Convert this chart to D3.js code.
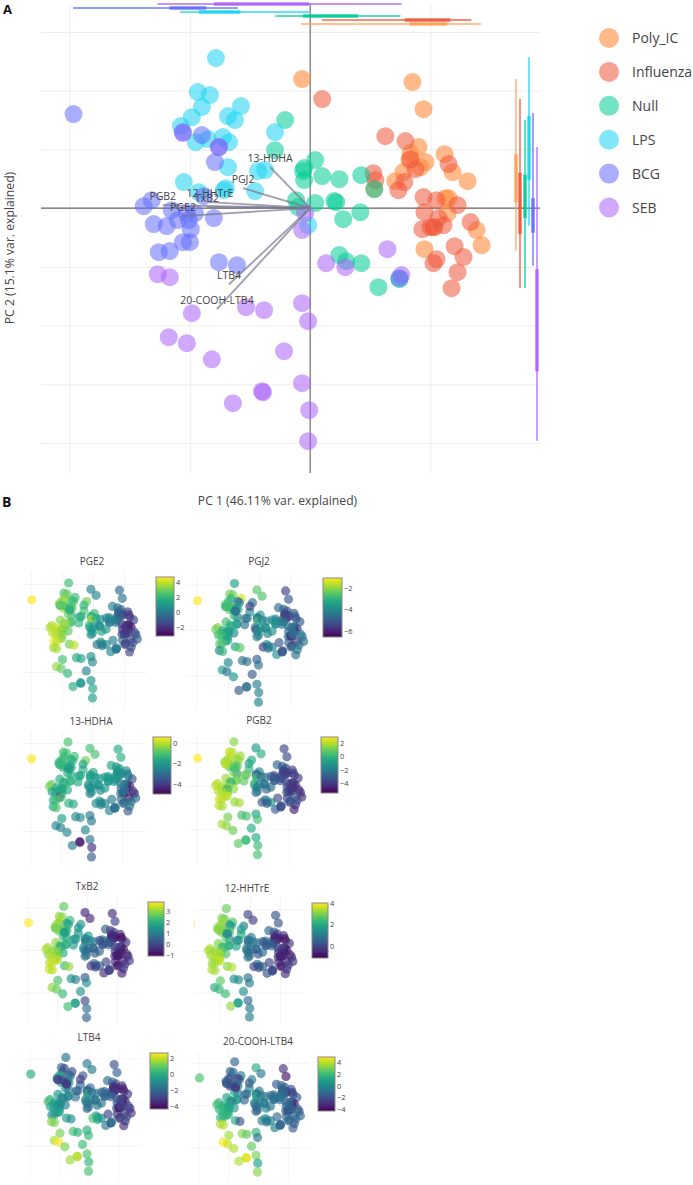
<!DOCTYPE html>
<html><head><meta charset="utf-8">
<script src="https://cdn.jsdelivr.net/npm/d3@7"></script>
<style>html,body{margin:0;padding:0;background:#fff}svg{display:block;font-family:"Open Sans",sans-serif}</style>
</head><body><svg id="c" width="693" height="1185"></svg>
<script>
// ---------- data ----------
const groupNames = ["Poly_IC","Influenza","Null","LPS","BCG","SEB"];
const groupColors = ["#FF8A3C","#EF553B","#00CC96","#19D3F3","#636EFA","#AB63FA"];
const boxColors = ["#FFA15A","#EF553B","#00CC96","#19D3F3","#636EFA","#AB63FA"];

const polyPc1 = [-0.67,8.5,9.42,9,8.33,8.25,9.58,9.17,11.17,7.75,7.08,11.83,13.08,5.33,11.25,11.5,11.42,10.33,13.83,14.25,9.5];
const polyPc2 = [10.99,10.74,8.43,5.2,4.69,4.09,3.92,3.49,4.6,3.07,2.3,3.07,2.3,1.62,0.85,0.85,-0.43,-1.62,-1.87,-3.15,-3.49];
const fluPc1 = [1,6.25,7.92,8.33,8.75,7.83,7.33,5.25,5.42,11.5,9.42,12.25,9.5,10.5,9.33,10,10.25,11.08,10.67,13.33,12,10.5,10.25,12.75,12.25,11.75];
const fluPc2 = [9.29,6.13,5.71,4.17,3.32,2.22,1.53,2.98,2.39,3.75,0.94,0.26,-0.34,0.68,-1.79,-1.62,-1.62,-1.45,-0.85,-1.19,-3.24,-4.35,-4.69,-4.17,-5.45,-6.82];
const nullPc1 = [-2.08,-2.92,0.42,-0.5,-0.58,-0.5,1,2.42,-1.17,-1,0.42,2,2.17,2.75,4.25,5.33,4.17,2.42,3,4.25,5.67,7.42];
const nullPc2 = [7.5,4.94,4.09,3.41,3.15,2.39,2.73,2.47,0.68,0.09,0.43,0.6,0.51,-0.94,2.81,1.62,-0.34,-4,-4.52,-4.69,-6.73,-6.05];
const lpsPc1 = [-7.83,-9.33,-8.33,-9,-5.75,-6.83,-6.25,-9.83,-10.75,-2.92,-9.5,-8.5,-7.25,-6.75,-6.83,-4.33,-3.75,-10.5,-7,-7.17,-4.58,-9.25,-0.17];
const lpsPc2 = [12.78,9.88,9.63,8.61,8.69,7.84,7.5,7.75,6.99,6.48,5.62,5.88,6.05,5.62,3.49,3.15,3.24,2.22,1.7,1.53,1.45,1.36,-1.45];
const bcgPc1 = [-19.67,-10.58,-9,-7.92,-7.58,-13.17,-13.83,-8.83,-11.5,-10.25,-9.58,-8,-11,-10.08,-9.92,-13,-11.92,-10.58,-10,-12.58,-11.67,-7.58,-6.08,7.42];
const bcgPc2 = [8.01,6.48,6.22,3.92,5.2,0.68,0.17,1.02,-0.17,-0.43,-0.43,-0.85,-1.02,-1.02,-1.79,-1.36,-1.53,-2.9,-2.9,-3.75,-3.66,-4.6,-4.86,-5.96];
const sebPc1 = [-7.58,-10.58,-0.42,-0.67,-12.67,-11.67,1.33,2.92,-9.83,-5.33,-3.83,-0.67,-0.17,-11.75,-10.25,-8.17,-2.17,-0.67,-4,-3.92,-6.42,-0.08,-0.17,6.42,7.58];
const sebPc2 = [5.2,6.39,-0.43,-1.87,-5.62,-5.88,-4.69,-5.03,-8.95,-8.43,-8.69,-8.09,-9.63,-10.99,-11.5,-12.87,-12.18,-14.91,-15.59,-15.68,-16.61,-17.21,-19.85,-3.49,-5.7];

// marginal box summaries: whisker low, box low, box high, whisker high
const boxPc1 = [[-0.75,8.25,11.4,14.2],[1,7.85,11.65,13.4],[-2.9,-0.6,4,7.5],[-10.8,-9.25,-5.8,-0.1],[-19.7,-11.7,-8.65,-6],[-12.7,-8,-0.1,7.6]];
const boxPc2 = [[-3.6,0.5,4.6,11],[-6.8,-2.2,3,9.3],[-6.8,-0.85,2.85,7.5],[-1.5,2.4,7.85,12.85],[-4.9,-2.1,0.85,8.1],[-19.8,-13.9,-5.2,5.2]];

const loadNames = ["13-HDHA","PGJ2","PGB2","12-HHTrE","TxB2","PGE2","LTB4","20-COOH-LTB4"];
const loadPc1 = [-3.33,-5.58,-12.25,-8.33,-8.58,-10.58,-6.75,-7.75];
const loadPc2 = [3.49,1.7,0.26,0.51,0.09,-0.68,-6.5,-8.6];

const gridPc1 = [-20,-10,0,10];
const gridPc2 = [-20,-15,-10,-5,0,5,10,15];

const pge2 = [0.2,-0.5,-0.3,-0.8,-0.6,-1,-1.2,-1.5,-1.5,-0.5,0,-1.8,-1.5,0.2,-2.3,-2.5,-2.2,-1.8,-1,-0.7,-0.2,
 0.5,0,-0.3,-0.8,-1,-0.3,0,0.3,0.5,-2,-1.5,-2.6,-2,-2.2,-1.5,-1.2,-1.5,-1.5,-2,-1.5,-1.5,-1.6,-1.7,-1.5,-1.2,-1.5,
 3,2.5,2.2,2,1.8,3.8,1.5,1,1.8,1.6,1,0.8,0.5,1.5,0.4,0.2,0.8,1,0.9,0.8,0.3,0.5,
 2.2,2.5,2.7,3.2,2.2,2.3,2.2,3.5,3.3,2,3.8,3,2.5,2.6,1.8,1.5,1.7,3.3,3,2.2,2,3.2,0.7,
 4.7,2.8,2.6,3,1.8,3.8,3.7,3.5,4,3.6,3.2,2.7,3.8,3.5,3.2,4,3.8,3.6,3.3,4.6,3.9,2.9,3.9,0.2,
 1.8,2.6,1,1,3.6,3.6,-0.2,0.1,2.3,1.7,1.3,0.8,0.6,3.5,2.8,2,0.4,0.8,0.8,0.9,1.6,1.5,1.2,0.1,-0.3];
const pgj2 = [-2.5,-5.5,-5,-5,-4.7,-6,-5.5,-5.3,-5,-4.5,-4.2,-5.5,-5,-4.3,-4.5,-4.3,-6,-5.8,-4.6,-4.6,-4.8,
 -2.6,-4.7,-5,-5.7,-5.4,-4.6,-4.3,-4.4,-4.2,-5,-4.5,-5.5,-4.4,-4.6,-4.6,-4.7,-6,-4.8,-4.5,-4.3,-5.6,-6,-4.7,-4.5,-4.3,-4.5,
 -4.5,-3.8,-3.6,-4.6,-4.4,-2.8,-4.2,-4,-4.2,-5.5,-3.8,-3.9,-3.9,-4,-3.8,-3.8,-3.8,-4,-4.2,-4.3,-3.9,-5.8,
 -3.5,-2.3,-2.2,-3,-1.5,-4.6,-4.3,-3,-2.5,-5.6,-2.5,-3,-3.5,-3.5,-4.4,-4.3,-4.5,-2.7,-4,-3.5,-4.5,-3,-4.2,
 -1.1,-2.8,-2.9,-3,-4.5,-2,-2.3,-3.2,-3.5,-3.2,-3.4,-4,-3.3,-3.5,-3.4,-2.8,-2.8,-3.2,-3.5,-2.6,-2.7,-3.4,-2.6,-5,
 -4.5,-2.8,-4,-4.2,-4.2,-3,-5.6,-4.3,-4.1,-4.4,-4.6,-5,-4.6,-3.5,-4.5,-3.7,-5.1,-4.2,-4.6,-4.6,-5,-4.2,-4.1,-5.1,-5];
const hdha13 = [-1.1,-1.6,-1.5,-1.8,-1.8,-2,-2.1,-2.1,-2.3,-1.8,-1.8,-2.4,-3.6,-2.2,-2.8,-3.1,-4.4,-3,-4.2,-3,-3.1,
 -1,-1.7,-2,-2.1,-2.3,-2,-2.2,-2,-2.1,-2.6,-2.8,-4.5,-2.7,-2.6,-2.8,-2.7,-3.5,-3,-3.1,-4.3,-4.7,-3.3,-3.1,-2.9,-2.7,-3.4,
 -0.6,-1.5,-1.7,-1.9,-2,-1.7,-2,-2,-2,-2.2,-2.2,-2.1,-2.2,-2.3,-2,-1.9,-2.1,-2,-2.3,-2.4,-2.5,-2.5,
 -1,-1,-1.1,-1.2,-1.1,-1.5,-1.4,-1.3,-1.4,-1.7,-1.4,-1.6,-1.6,-1.6,-1.7,-1.8,-1.7,-1.5,-1.7,-1.2,-1.7,-1.8,-2,
 0.5,-1.3,-1.3,-1.4,-1.7,-0.8,-0.6,-1.3,-1.5,-1.4,-1.6,-1.6,-1.5,-1.7,-1.6,-1.8,-1.7,-4.3,-1,-1.7,-1.1,-1.4,-1.6,-3.3,
 -2,-1.3,-2.2,-2.4,-1.5,-1,-2.2,-2.4,-1.8,-2.4,-2.4,-2.7,-2.8,-2.4,-2.6,-2.4,-2.4,-2.8,-4.8,-4.6,-2.7,-4.2,-3.3,-2.7,-2.8];
const pgb2 = [-1,-3.6,-3.5,-3.5,-3.5,-4,-4,-4,-3.7,-3.5,-2.5,-3.8,-4,-3,-3.8,-3.7,-4,-4,-4.2,-4.5,-4,
 -0.2,-2.7,-3,-4,-4,-3.7,-3.3,-4,-3.5,-4,-3.5,-4.5,-3.5,-4,-3.3,-3.4,-3.6,-4,-4.2,-4.5,-3.3,-3.5,-3.4,-3.6,-3.8,-4.8,
 -0.3,0,-2,-2.5,-2.6,0.5,-2.5,-2.3,-0.2,0.1,-1.9,-2.3,-2.3,-2.6,-3.2,-3,-2.5,-2.8,-1,-1.1,-3,-3.5,
 1.4,2.1,1.9,2.3,1.7,1.5,1.6,1.8,1.2,-0.5,1,-0.4,1,0.8,-1.4,1.2,0.8,1.6,1,1.3,0.8,1.8,-2,
 2.9,2.2,1.8,1,0.5,1.9,2,-0.4,1.8,1.4,1.7,1.5,1.9,-0.6,1.2,2,1.8,2,2.1,2.2,2,1.5,1.8,-3.5,
 0.5,1.9,-2,-2.3,2.1,1.8,-3.3,-3,1.1,0.5,0.4,-0.6,0.4,1.8,1.5,1,-0.3,-0.3,0.2,0.2,0.8,0.2,0.5,-3.6,-3.5];
const txb2 = [-0.6,-0.5,-0.2,-0.2,-0.3,-0.5,-0.5,-0.8,-0.5,0,0.3,-0.5,-0.4,0.3,-0.2,-0.2,-0.8,-0.7,-0.5,-0.2,-0.5,
 -0.5,0.3,-0.1,-0.6,-0.6,0,0.4,0.8,0.7,-1,-0.2,-0.9,-0.1,-0.1,-0.3,-0.3,-0.8,-0.8,-0.7,-0.5,-0.6,-0.6,-0.8,-0.4,-0.2,-0.6,
 1.5,1.5,1.5,1.4,1.2,0.8,1.2,1,1.3,1.2,0.6,0.7,0.6,0.3,0,0.1,0.5,0.9,0.5,0.3,-0.5,0.1,
 2.6,3,2.9,3.3,2.2,1.7,1.8,2.8,3.2,1.5,2.7,2.5,2.2,2.2,1.6,1.3,1.5,3,2.1,2,1.6,2.6,0.6,
 3.8,2.8,2.8,2.2,1.6,3.1,3.2,1.6,2.9,2.8,2.6,2,3,3,2.7,3,3.2,3,3.3,3.2,3.4,2.3,3,0,
 1.6,2.8,0.5,0.9,3.4,3.3,-0.3,-0.1,2.4,1.5,1,0.2,1.3,3,2.7,2.2,1.5,0,1.7,1.7,2.3,0.7,0.5,0,-0.2];
const hhtre12 = [0,0.2,0.3,-0.2,-0.1,-0.4,-0.5,-0.8,-0.4,0,0.6,-0.5,-0.3,0.6,-0.2,-0.2,-0.9,-0.8,-0.6,-0.3,-0.5,
 -0.2,0.6,0.2,-0.5,-0.6,0,0.5,0.9,0.8,-0.8,-0.1,-0.9,-0.2,-0.2,-0.3,-0.3,-0.8,-0.7,-0.6,-0.5,-0.5,-0.5,-0.7,-0.3,-0.2,-0.5,
 1.2,2,1,1.2,0.9,0.8,1,0.9,1,1,0.7,0.7,0.6,0.2,0.2,0.3,0.6,0.9,0.7,0.5,0.2,0.6,
 2.8,3,2.9,3.3,2.5,1.4,1.7,3.1,3.2,1.7,2.9,2.8,2.5,2.7,1.2,1.2,1.5,3,2.5,2,1.8,2.7,0.5,
 4,3.1,3,2.6,1.3,3.3,3.4,2.2,3.1,3.2,2.9,2.6,3.3,3.4,3.1,3.2,3.4,3.4,3.6,3.2,3.3,3.1,3.4,0.2,
 1.4,3.1,0.7,0.9,3.4,3.3,-0.1,0.2,2.7,1.5,1.3,0.8,1.1,2,2.3,2.4,1.5,0.7,1.7,1.7,3.2,1,1.1,0,-0.1];
const ltb4 = [-1.5,-2.7,-2.2,-2.8,-3,-3.5,-3.2,-3.5,-3.5,-3,-2,-3.5,-3.2,-2.2,-3.3,-3.2,-3.5,-3.4,-3.5,-3.4,-3.4,
 -1.4,-1.9,-2.2,-3.6,-3.4,-3,-2,-2.2,-2.1,-3.8,-2.6,-3.7,-2.4,-2.8,-2.8,-2.8,-4.2,-3.2,-3,-3,-3.2,-3.2,-3,-2.8,-3,-3.4,
 -2.5,-2,-1.8,-2.2,-2.5,-0.2,-1.8,-1.5,-1.3,-1.3,-1.2,-1.8,-1.7,-1.7,-2,-2,-1.8,-0.8,-0.8,-1,-1.6,-1.2,
 -1.8,-2,-2.8,-2.5,-2.8,-2,-2,-0.4,-0.4,-3,-0.5,-0.6,-1.2,-1,-1.5,-2,-2,-0.7,-1.2,-1.2,-1.8,-0.4,-1.6,
 0,-2.8,-3.2,-1,-3.2,0,0.6,-1.5,-0.7,-0.8,-1.2,-1.2,-0.6,-0.9,-1,-0.4,-0.5,-0.4,-0.5,-1,-0.5,-0.5,-1,-3.2,
 -3.3,-3,-1.6,-2,1.4,1.2,0.6,-0.2,1.2,0.6,0.2,0,0.3,1.8,2.7,1.2,0.5,0.7,1.9,1.9,1.7,0.3,0.6,-3,-1.4];
const cooh20 = [1.5,-3,-3.8,-1.8,-1.5,-2.5,-2.5,-3,-2,-1.2,-0.8,-2,-1.6,-0.7,-1.5,-1.5,-3.5,-2,-2,-1.2,-1.3,
 -0.7,-1.8,-1.2,-1.2,-1.3,-0.8,-0.7,-0.8,-0.8,-2.5,-1.3,-3.4,-1.2,-1.2,-1.5,-1.5,-2,-1.8,-1.5,-1.4,-1.4,-1.4,-1.2,-1.2,-1.4,-1.8,
 -0.3,0,-0.5,-0.6,-0.4,1.3,-0.8,-0.5,-0.4,-0.4,-0.3,-0.5,-0.4,-0.3,-1,-1,-0.7,0.2,-0.1,-0.3,-0.4,-0.6,
 -1.3,-1.5,-1.2,-0.6,-0.3,-3,-2,-2.2,-1.5,-1.8,-2.8,-0.3,-0.8,-0.4,-1.3,-1,-1,0.8,1,0.6,-1.3,1.3,-1,
 2.3,-1.8,-2,1,-2.7,1.8,2.2,-0.5,1.2,1.4,1,0.8,1.3,1.2,1.2,1.6,1.8,1.5,1.6,1.5,1.6,1.3,-2,-1,
 -2.7,-1.8,-1,-1.5,3.7,3.8,-0.3,-0.5,3.6,3.2,2.6,1.8,-0.6,4.8,4.2,3.8,2.7,3,4.4,4.4,3.8,1,3.2,-1.2,-1.5];

const panelNames = ["PGE2","PGJ2","13-HDHA","PGB2","TxB2","12-HHTrE","LTB4","20-COOH-LTB4"];
const panelValues = [pge2,pgj2,hdha13,pgb2,txb2,hhtre12,ltb4,cooh20];
const panelDomains = [[-3.2,4.7],[-6.6,-1.07],[-5,0.6],[-5.5,2.9],[-1.1,3.8],[-1.1,4],[-4.4,2.7],[-4.3,4.9]];
const panelTicks = [[-2,0,2,4],[-6,-4,-2],[-4,-2,0],[-4,-2,0,2],[-1,0,1,2,3],[0,2,4],[-4,-2,0,2],[-4,-2,0,2,4]];

// ---------- layout ----------
const layout = [
 {x0:93, y0:628,kx:.2585,ky:.3,  left:22, right:147,top:572,bot:709,tx:92, ty:561,cb:[156,174,577,636]},
 {x0:259,y0:630,kx:.26,  ky:.31, left:187,right:315,top:572,bot:709,tx:259,ty:561,cb:[323,342,578,637]},
 {x0:92, y0:787,kx:.255, ky:.3,  left:22, right:145,top:731,bot:865,tx:91, ty:721,cb:[153,171,737,794]},
 {x0:258,y0:786,kx:.255, ky:.295,left:188,right:312,top:731,bot:865,tx:259,ty:720,cb:[321,338,737,793]},
 {x0:87, y0:950,kx:.247, ky:.29, left:20, right:138,top:897,bot:1023,tx:87,ty:886,cb:[148,164,902,956]},
 {x0:250,y0:951,kx:.25,  ky:.283,left:194,right:303,top:897,bot:1023,tx:247,ty:888,cb:[312,328,903,958]},
 {x0:89, y0:1102,kx:.246,ky:.297,left:22, right:141,top:1048,bot:1179,tx:89,ty:1037,cb:[150,168,1053,1109]},
 {x0:258,y0:1105,kx:.247,ky:.288,left:190,right:309,top:1052,bot:1182,tx:258,ty:1041,cb:[318,335,1057,1111]}
];
const ink = "#444";
const svg = d3.select("#c");

const pc1Groups = [polyPc1,fluPc1,nullPc1,lpsPc1,bcgPc1,sebPc1];
const pc2Groups = [polyPc2,fluPc2,nullPc2,lpsPc2,bcgPc2,sebPc2];
const allPoints = pc1Groups.flatMap((g,i)=>g.map((v,j)=>({pc1:v,pc2:pc2Groups[i][j],group:i})));

// ---------- panel A ----------
const x = d3.scaleLinear().domain([-20,10]).range([69.5,430.5]);
const y = d3.scaleLinear().domain([-20,15]).range([443,32]);
const A = svg.append("g");

const gx = A.append("g").attr("transform","translate(0,473)")
  .call(d3.axisBottom(x).tickValues(gridPc1).tickSize(-470).tickFormat(""));
const gy = A.append("g").attr("transform","translate(41,0)")
  .call(d3.axisLeft(y).tickValues(gridPc2).tickSize(-499).tickFormat(""));
[gx,gy].forEach(g=>{g.select(".domain").remove();g.selectAll("line").attr("stroke","#eee").attr("stroke-width",1);});

A.append("line").attr("x1",x(0)).attr("x2",x(0)).attr("y1",3).attr("y2",473).attr("stroke","#666").attr("stroke-width",1.1);
A.append("line").attr("x1",41).attr("x2",540).attr("y1",y(0)).attr("y2",y(0)).attr("stroke","#666").attr("stroke-width",1.1);

const drawOrder = [0,1,2,3,5,4];
drawOrder.forEach(gi=>{
  A.append("g").selectAll("circle").data(allPoints.filter(p=>p.group===gi)).join("circle")
    .attr("cx",d=>x(d.pc1)).attr("cy",d=>y(d.pc2)).attr("r",9)
    .attr("fill",groupColors[gi]).attr("fill-opacity",gi===0?.6:.55);
});

// marginal boxes
const topRow = [24,20,16,12,8,4], rightCol = [516,520,525,529,533,537];
groupNames.forEach((n,i)=>{
  const bx = boxPc1[i], by = boxPc2[i], c = boxColors[i];
  A.append("line").attr("x1",x(bx[0])).attr("x2",x(bx[3])).attr("y1",topRow[i]).attr("y2",topRow[i]).attr("stroke",c).attr("stroke-width",1.4).attr("stroke-opacity",.9);
  A.append("rect").attr("x",x(bx[1])).attr("width",x(bx[2])-x(bx[1])).attr("y",topRow[i]-1.7).attr("height",3.4).attr("fill",c).attr("fill-opacity",.9);
  A.append("line").attr("y1",y(by[0])).attr("y2",y(by[3])).attr("x1",rightCol[i]).attr("x2",rightCol[i]).attr("stroke",c).attr("stroke-width",1.4).attr("stroke-opacity",.9);
  A.append("rect").attr("y",y(by[2])).attr("height",y(by[1])-y(by[2])).attr("x",rightCol[i]-1.7).attr("width",3.4).attr("fill",c).attr("fill-opacity",.9);
});

// loadings
loadNames.forEach((n,i)=>{
  A.append("line").attr("x1",x(0)).attr("y1",y(0)).attr("x2",x(loadPc1[i])).attr("y2",y(loadPc2[i]))
    .attr("stroke","#77778f").attr("stroke-opacity",.7).attr("stroke-width",1.9);
  A.append("text").attr("x",x(loadPc1[i])).attr("y",y(loadPc2[i])-5).attr("text-anchor","middle")
    .attr("font-size",10.5).attr("fill",ink).text(n);
});

// legend
groupNames.forEach((n,i)=>{
  const ly = 38+i*33.9;
  svg.append("circle").attr("cx",609).attr("cy",ly).attr("r",10).attr("fill",groupColors[i]).attr("fill-opacity",i===0?.6:.55);
  svg.append("text").attr("x",632).attr("y",ly+5).attr("font-size",14).attr("fill",ink).text(n);
});

// titles
svg.append("text").attr("x",277.5).attr("y",505).attr("text-anchor","middle").attr("font-size",12.2).attr("fill",ink).text("PC 1 (46.11% var. explained)");
svg.append("text").attr("transform","translate(14,248) rotate(-90)").attr("text-anchor","middle").attr("font-size",12.2).attr("fill",ink).text("PC 2 (15.1% var. explained)");
svg.append("text").attr("x",3).attr("y",13.5).attr("font-size",13).attr("font-weight",700).attr("fill","#111").text("A");
svg.append("text").attr("x",2).attr("y",507).attr("font-size",14).attr("font-weight",700).attr("fill","#111").text("B");

// ---------- panel B ----------
const defs = svg.append("defs");
panelNames.forEach((name,pi)=>{
  const L = layout[pi], vals = panelValues[pi], dom = panelDomains[pi];
  const sx = d3.scaleLinear().domain([-10,10]).range([L.x0-120.3*L.kx,L.x0+120.3*L.kx]);
  const sy = d3.scaleLinear().domain([-12.5,12.5]).range([L.y0+146.7*L.ky,L.y0-146.7*L.ky]);
  const color = d3.scaleSequential(d3.interpolateViridis).domain(dom);
  const g = svg.append("g");
  const clip = "clip"+pi;
  defs.append("clipPath").attr("id",clip).append("rect").attr("x",L.left).attr("y",L.top).attr("width",L.right-L.left).attr("height",L.bot-L.top);

  const ax = g.append("g").attr("transform",`translate(0,${L.bot})`)
    .call(d3.axisBottom(sx).tickValues([-20,-10,0,10]).tickSize(-(L.bot-L.top)).tickFormat(""));
  const ay = g.append("g").attr("transform",`translate(${L.left},0)`)
    .call(d3.axisLeft(sy).tickValues([-12.5,0,12.5]).tickSize(-(L.right-L.left)).tickFormat(""));
  [ax,ay].forEach(a=>{a.select(".domain").remove();a.selectAll("line").attr("stroke","#f4f4f4").attr("stroke-width",1);});
  ax.selectAll(".tick").filter(d=>sx(d)<L.left).remove();

  g.append("g").attr("clip-path",`url(#${clip})`).selectAll("circle").data(allPoints).join("circle")
    .attr("cx",d=>sx(d.pc1)).attr("cy",d=>sy(d.pc2)).attr("r",4.6)
    .attr("fill",(d,i)=>color(vals[i])).attr("fill-opacity",.66);

  g.append("text").attr("x",L.tx).attr("y",L.ty+4).attr("text-anchor","middle").attr("font-size",10).attr("fill",ink).text(name);

  // colour bar
  const [c0,c1,c2,c3] = L.cb;
  const gid = "grad"+pi;
  const grad = defs.append("linearGradient").attr("id",gid).attr("x1",0).attr("x2",0).attr("y1",1).attr("y2",0);
  d3.range(0,1.001,.1).forEach(t=>grad.append("stop").attr("offset",t).attr("stop-color",d3.interpolateViridis(t)));
  g.append("rect").attr("x",c0).attr("y",c2).attr("width",c1-c0).attr("height",c3-c2)
    .attr("fill",`url(#${gid})`).attr("stroke","#888").attr("stroke-width",1);
  const cs = d3.scaleLinear().domain(dom).range([c3,c2]);
  const cAxis = g.append("g").attr("transform",`translate(${c1},0)`)
    .call(d3.axisRight(cs).tickValues(panelTicks[pi]).tickSize(0).tickPadding(2).tickFormat(d3.format("d")));
  cAxis.select(".domain").remove();
  cAxis.selectAll("text").attr("font-size",7.5).attr("font-family",'"Open Sans",sans-serif').attr("fill",ink);
});
</script></body></html>
